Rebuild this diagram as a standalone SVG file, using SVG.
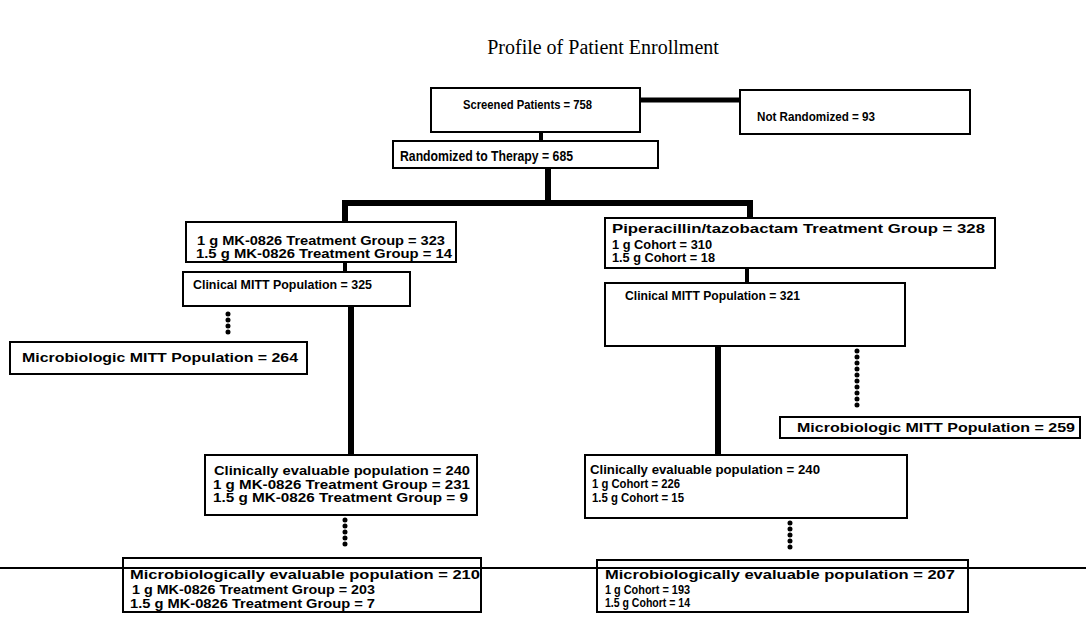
<svg xmlns="http://www.w3.org/2000/svg" width="1086" height="641" viewBox="0 0 1086 641">
<style>
.box{fill:#fff;stroke:#000;stroke-width:2}
.t{font-family:"Liberation Sans",Arial,sans-serif;font-size:13px;font-weight:bold;fill:#000}
.title{font-family:"Liberation Serif","Times New Roman",serif;font-size:20px;fill:#000}
.thick{stroke:#000;stroke-width:5;fill:none}
.dots{stroke:#000;stroke-width:5;stroke-linecap:round;stroke-dasharray:0 6;fill:none}
</style>
<rect width="1086" height="641" fill="#fff"/>
<text class="title" x="603" y="54" text-anchor="middle">Profile of Patient Enrollment</text>
<g id="connectors">
<line class="thick" x1="640" y1="100" x2="740" y2="100"/>
<line class="thick" x1="541" y1="132" x2="541" y2="141" style="stroke-width:4"/>
<polyline class="thick" points="548,168 548,203" style="stroke-width:6"/>
<polyline class="thick" points="345,222 345,203 750,203 750,218" style="stroke-width:6"/>
<line class="thick" x1="345" y1="262" x2="345" y2="272" style="stroke-width:4"/>
<line class="thick" x1="747" y1="268" x2="747" y2="283" style="stroke-width:4"/>
<line class="dots" x1="228" y1="314" x2="228" y2="338"/>
<line class="thick" x1="351" y1="306" x2="351" y2="455" style="stroke-width:6"/>
<line class="dots" x1="857" y1="351" x2="857" y2="411"/>
<line class="thick" x1="718" y1="346" x2="718" y2="455" style="stroke-width:6"/>
<line class="dots" x1="345" y1="520" x2="345" y2="550"/>
<line class="dots" x1="790" y1="523" x2="790" y2="553"/>
</g>
<g id="screened"><rect class="box" x="431" y="88" width="209" height="44"/><text class="t" x="463" y="109" textLength="129" lengthAdjust="spacingAndGlyphs">Screened Patients = 758</text></g>
<g id="notRandomized"><rect class="box" x="740" y="90" width="230" height="44"/><text class="t" x="757" y="121" textLength="118" lengthAdjust="spacingAndGlyphs">Not Randomized = 93</text></g>
<g id="randomized"><rect class="box" x="393" y="141" width="265" height="27"/><text class="t" x="400" y="161" style="font-size:15px" textLength="173" lengthAdjust="spacingAndGlyphs">Randomized to Therapy = 685</text></g>
<g id="leftTreatment"><rect class="box" x="186" y="222" width="270" height="40"/>
<text class="t" x="197" y="245" textLength="248" lengthAdjust="spacingAndGlyphs">1 g MK-0826 Treatment Group = 323</text>
<text class="t" x="196" y="258" textLength="256" lengthAdjust="spacingAndGlyphs">1.5 g MK-0826 Treatment Group = 14</text></g>
<g id="rightTreatment"><rect class="box" x="605" y="218" width="390" height="50"/>
<text class="t" x="612" y="233" textLength="373" lengthAdjust="spacingAndGlyphs">Piperacillin/tazobactam Treatment Group = 328</text>
<text class="t" x="612" y="249" textLength="100" lengthAdjust="spacingAndGlyphs">1 g Cohort = 310</text>
<text class="t" x="612" y="262" textLength="103" lengthAdjust="spacingAndGlyphs">1.5 g Cohort = 18</text></g>
<g id="leftClinicalMITT"><rect class="box" x="183" y="272" width="227" height="34"/><text class="t" x="193" y="289" textLength="179" lengthAdjust="spacingAndGlyphs">Clinical MITT Population = 325</text></g>
<g id="rightClinicalMITT"><rect class="box" x="605" y="283" width="300" height="63"/><text class="t" x="625" y="300" textLength="175" lengthAdjust="spacingAndGlyphs">Clinical MITT Population = 321</text></g>
<g id="leftMicroMITT"><rect class="box" x="10" y="342" width="297" height="32"/><text class="t" x="22" y="362" textLength="276" lengthAdjust="spacingAndGlyphs">Microbiologic MITT Population = 264</text></g>
<g id="rightMicroMITT"><rect class="box" x="780" y="417" width="300" height="21"/><text class="t" x="797" y="432" textLength="278" lengthAdjust="spacingAndGlyphs">Microbiologic MITT Population = 259</text></g>
<g id="leftEvaluable"><rect class="box" x="205" y="455" width="272" height="60"/>
<text class="t" x="214" y="475" textLength="256" lengthAdjust="spacingAndGlyphs">Clinically evaluable population = 240</text>
<text class="t" x="213" y="489" textLength="257" lengthAdjust="spacingAndGlyphs">1 g MK-0826 Treatment Group = 231</text>
<text class="t" x="213" y="502" textLength="255" lengthAdjust="spacingAndGlyphs">1.5 g MK-0826 Treatment Group = 9</text></g>
<g id="rightEvaluable"><rect class="box" x="585" y="455" width="322" height="63"/>
<text class="t" x="590" y="474" textLength="230" lengthAdjust="spacingAndGlyphs">Clinically evaluable population = 240</text>
<text class="t" x="592" y="488" textLength="88" lengthAdjust="spacingAndGlyphs">1 g Cohort = 226</text>
<text class="t" x="592" y="502" textLength="92" lengthAdjust="spacingAndGlyphs">1.5 g Cohort = 15</text></g>
<g id="leftMicroEvaluable"><rect class="box" x="123" y="558" width="358" height="54"/>
<text class="t" x="130" y="579" textLength="350" lengthAdjust="spacingAndGlyphs">Microbiologically evaluable population = 210</text>
<text class="t" x="132" y="594" textLength="243" lengthAdjust="spacingAndGlyphs">1 g MK-0826 Treatment Group = 203</text>
<text class="t" x="130" y="608" textLength="245" lengthAdjust="spacingAndGlyphs">1.5 g MK-0826 Treatment Group = 7</text></g>
<g id="rightMicroEvaluable"><rect class="box" x="597" y="560" width="371" height="52"/>
<text class="t" x="605" y="579" textLength="350" lengthAdjust="spacingAndGlyphs">Microbiologically evaluable population = 207</text>
<text class="t" x="605" y="594" textLength="85" lengthAdjust="spacingAndGlyphs">1 g Cohort = 193</text>
<text class="t" x="605" y="607" textLength="85" lengthAdjust="spacingAndGlyphs">1.5 g Cohort = 14</text></g>
<line x1="0" y1="568" x2="1086" y2="568" stroke="#000" stroke-width="2"/>
</svg>
